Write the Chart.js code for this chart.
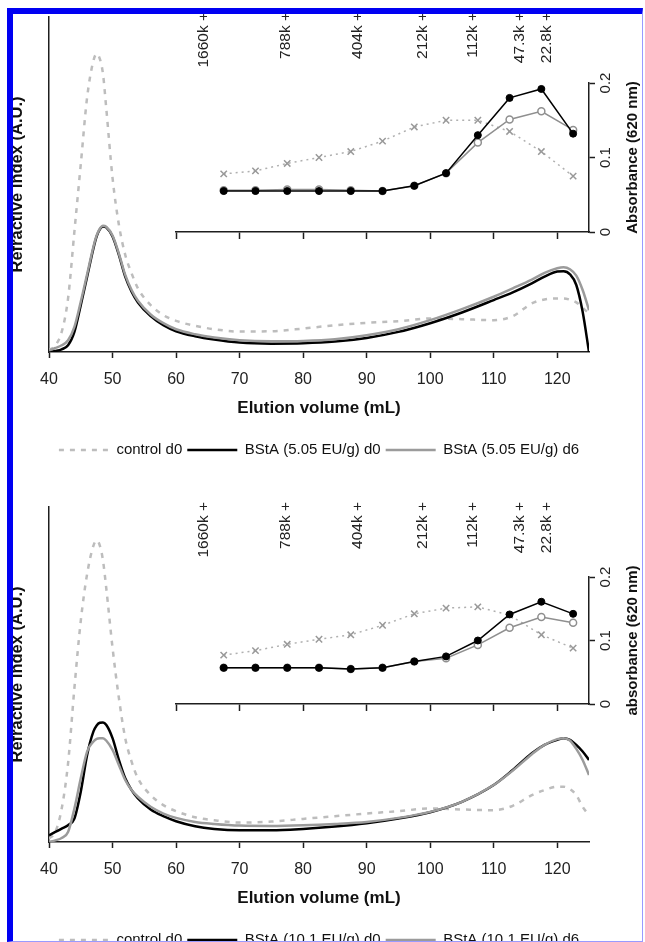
<!DOCTYPE html>
<html>
<head>
<meta charset="utf-8">
<title>Elution profiles</title>
<script src="https://cdn.jsdelivr.net/npm/chart.js@4.4.1/dist/chart.umd.min.js"></script>
<style>
  html, body { margin: 0; padding: 0; background: #fff; }
  #page { position: relative; width: 645px; height: 942px; overflow: hidden; background: #fff; }
  .panel { position: absolute; left: 0; width: 645px; height: 490px; }
  .panel canvas { position: absolute; left: 0; top: 0; }
  #frame { position: absolute; left: 7px; top: 8px; width: 636px; height: 934px; box-sizing: border-box;
           border-left: 6px solid #0000f2; border-top: 6px solid #0000f2;
           border-right: 1px solid #9a9aff; border-bottom: 1px solid #9a9aff;
           pointer-events: none; z-index: 5; }
</style>
</head>
<body>
<div id="page">
  <div class="panel" style="top:0px">
    <canvas id="mainA" width="645" height="490"></canvas>
    <canvas id="insetA" width="645" height="490"></canvas>
  </div>
  <div class="panel" style="top:490px">
    <canvas id="mainB" width="645" height="490"></canvas>
    <canvas id="insetB" width="645" height="490"></canvas>
  </div>
  <div id="frame"></div>
</div>
<script>
Chart.defaults.font.family = '"Liberation Sans", Arial, sans-serif';
Chart.defaults.color = '#222';

// elution volume (mL) of the refractive index traces
const VOL = [40, 41, 42, 43, 44, 45, 46, 47, 47.5, 48, 48.5, 49, 50, 51, 52, 53, 54, 56, 58, 60,
             63, 66, 70, 75, 80, 85, 90, 95, 100, 105, 110, 113, 116, 118, 120, 121, 122, 123, 124, 125];

// top panel, BStA 5.05 EU/g
const CTRL_A = [0.005, 0.02, 0.06, 0.16, 0.36, 0.56, 0.76, 0.87, 0.89, 0.875, 0.83, 0.73, 0.52, 0.38, 0.29, 0.235, 0.19, 0.14, 0.11, 0.093,
                0.078, 0.068, 0.061, 0.062, 0.07, 0.08, 0.087, 0.092, 0.1, 0.098, 0.095, 0.107, 0.145, 0.157, 0.16, 0.16, 0.156, 0.148, 0.132, 0.115];
const D0_A = [0.0, 0.003, 0.008, 0.02, 0.06, 0.14, 0.225, 0.31, 0.345, 0.366, 0.375, 0.372, 0.345, 0.29, 0.225, 0.18, 0.148, 0.107, 0.08, 0.062,
              0.047, 0.037, 0.028, 0.025, 0.026, 0.031, 0.042, 0.06, 0.086, 0.118, 0.155, 0.178, 0.205, 0.225, 0.24, 0.241, 0.232, 0.2, 0.12, 0.0];
const D6_A = [0.005, 0.012, 0.02, 0.035, 0.075, 0.15, 0.232, 0.315, 0.348, 0.368, 0.377, 0.374, 0.348, 0.294, 0.23, 0.185, 0.153, 0.112, 0.086, 0.068,
              0.053, 0.043, 0.035, 0.032, 0.033, 0.038, 0.05, 0.068, 0.095, 0.128, 0.165, 0.19, 0.216, 0.236, 0.25, 0.253, 0.247, 0.228, 0.185, 0.125];

// bottom panel, BStA 10.1 EU/g
const CTRL_B = [0.01, 0.03, 0.1, 0.235, 0.46, 0.66, 0.8, 0.885, 0.9, 0.885, 0.84, 0.76, 0.58, 0.43, 0.31, 0.24, 0.19, 0.14, 0.11, 0.092,
                0.074, 0.065, 0.058, 0.061, 0.069, 0.077, 0.085, 0.092, 0.1, 0.097, 0.095, 0.108, 0.14, 0.155, 0.165, 0.165, 0.158, 0.14, 0.105, 0.08];
const D0_B = [0.02, 0.03, 0.04, 0.05, 0.07, 0.15, 0.26, 0.33, 0.348, 0.356, 0.357, 0.35, 0.31, 0.245, 0.19, 0.155, 0.13, 0.097, 0.077, 0.062,
              0.047, 0.039, 0.035, 0.035, 0.039, 0.046, 0.056, 0.07, 0.089, 0.12, 0.17, 0.215, 0.265, 0.29, 0.305, 0.31, 0.305, 0.29, 0.27, 0.245];
const D6_B = [0.0, 0.005, 0.012, 0.03, 0.1, 0.19, 0.27, 0.3, 0.308, 0.31, 0.31, 0.303, 0.275, 0.23, 0.185, 0.155, 0.135, 0.105, 0.085, 0.072,
              0.06, 0.054, 0.049, 0.048, 0.05, 0.054, 0.06, 0.072, 0.09, 0.12, 0.17, 0.213, 0.262, 0.29, 0.307, 0.31, 0.303, 0.278, 0.245, 0.2];

// collected fractions, absorbance at 620 nm
const FRAC = [67.5, 72.5, 77.5, 82.5, 87.5, 92.5, 97.5, 102.5, 107.5, 112.5, 117.5, 122.5];
const ABS_CTRL_A = [0.078, 0.082, 0.092, 0.100, 0.108, 0.122, 0.141, 0.150, 0.150, 0.135, 0.108, 0.075];
const ABS_D0_A = [0.055, 0.055, 0.055, 0.055, 0.055, 0.055, 0.062, 0.079, 0.130, 0.180, 0.192, 0.132];
const ABS_D6_A = [0.056, 0.056, 0.057, 0.057, 0.056, 0.055, 0.062, 0.079, 0.120, 0.151, 0.162, 0.137];
const ABS_CTRL_B = [0.077, 0.084, 0.094, 0.102, 0.109, 0.124, 0.142, 0.151, 0.153, 0.140, 0.109, 0.088];
const ABS_D0_B = [0.057, 0.057, 0.057, 0.057, 0.055, 0.057, 0.067, 0.075, 0.100, 0.141, 0.161, 0.142];
const ABS_D6_B = [0.057, 0.057, 0.057, 0.057, 0.055, 0.057, 0.067, 0.072, 0.093, 0.120, 0.137, 0.128];

// molecular weight standards
const MW_VOL = [64.4, 77.3, 88.6, 98.9, 106.7, 114.1, 118.4];
const MW_LABELS = ['1660k', '788k', '404k', '212k', '112k', '47.3k', '22.8k'];

const XTICKS = [40, 50, 60, 70, 80, 90, 100, 110, 120];
const INSET_XTICKS = [60, 70, 80, 90, 100, 110, 120];
const ABS_TICKS = [0, 0.1, 0.2];

const NAMES_A = ['control d0', 'BStA (5.05 EU/g) d0', 'BStA (5.05 EU/g) d6'];
const NAMES_B = ['control d0', 'BStA (10.1 EU/g) d0', 'BStA (10.1 EU/g) d6'];

const AXIS = '#1e1e1e';
const pts = (xs, ys) => xs.map((x, i) => ({ x: x, y: ys[i] }));

// right-hand title that reads bottom to top, like the left one
const sideTitle = {
  id: 'sideTitle',
  afterDraw(chart, args, opts) {
    if (!opts.text) return;
    const a = chart.chartArea, ctx = chart.ctx;
    ctx.save();
    ctx.translate(a.right + opts.dx, (a.top + a.bottom) / 2 + (opts.dy || 0));
    ctx.rotate(-Math.PI / 2);
    ctx.font = 'bold ' + opts.size + 'px ' + Chart.defaults.font.family;
    ctx.fillStyle = '#111';
    ctx.textAlign = 'center';
    ctx.textBaseline = 'middle';
    ctx.fillText(opts.text, 0, 0);
    ctx.restore();
  }
};

// legend samples as plain line segments, keeping each dataset's dash
function lineLabels(chart) {
  return chart.data.datasets.map((ds, i) => ({
    text: ds.label,
    datasetIndex: i,
    hidden: false,
    fillStyle: ds.borderColor,
    strokeStyle: ds.borderColor,
    lineWidth: ds.borderWidth,
    lineDash: ds.borderDash || [],
    lineCap: 'butt',
    pointStyle: 'line',
    fontColor: '#111'
  }));
}

function mainChart(id, ctrl, d0, d6, names) {
  return new Chart(document.getElementById(id), {
    type: 'line',
    data: {
      datasets: [
        { label: names[0], data: pts(VOL, ctrl), borderColor: '#bdbdbd', borderDash: [5, 6], borderWidth: 2.5, order: 3 },
        { label: names[1], data: pts(VOL, d0), borderColor: '#000', borderWidth: 2.5, order: 2 },
        { label: names[2], data: pts(VOL, d6), borderColor: '#9b9b9b', borderWidth: 2.5, order: 1 }
      ]
    },
    options: {
      responsive: false, animation: false, events: [],
      elements: { point: { radius: 0 }, line: { cubicInterpolationMode: 'monotone', fill: false } },
      layout: { padding: { left: 0, right: 56, top: 17, bottom: 22.5 } },
      plugins: {
        legend: {
          position: 'bottom', fullSize: false,
          labels: {
            usePointStyle: true, pointStyle: 'line', pointStyleWidth: 50,
            font: { size: 15 }, color: '#111', padding: 5,
            generateLabels: lineLabels
          }
        },
        tooltip: { enabled: false }
      },
      scales: {
        x: {
          type: 'linear', min: 40, max: 125,
          afterBuildTicks: s => { s.ticks = XTICKS.map(v => ({ value: v })); },
          afterFit: s => { s.height = 85.5; },
          ticks: { font: { size: 16 }, color: '#222', padding: 12, maxRotation: 0, autoSkip: false },
          grid: { drawOnChartArea: false, tickLength: 6, tickColor: AXIS, tickWidth: 1.5 },
          border: { color: AXIS, width: 1.5 },
          title: { display: true, text: 'Elution volume (mL)', font: { size: 17, weight: 'bold' }, color: '#111', padding: { top: 0, bottom: 19 } }
        },
        y: {
          min: 0, max: 1,
          afterFit: s => { s.width = 49; },
          ticks: { display: false },
          grid: { display: false },
          border: { color: AXIS, width: 1.5 },
          title: { display: true, text: 'Refractive index (A.U.)', font: { size: 16.5, weight: 'bold' }, color: '#111', padding: { top: 8, bottom: 0 } }
        },
        xmw: {
          type: 'linear', axis: 'x', min: 40, max: 125, position: { y: 1.024 },
          afterBuildTicks: s => { s.ticks = MW_VOL.map(v => ({ value: v })); },
          ticks: { callback: (v, i) => MW_LABELS[i] + ' +', minRotation: 90, maxRotation: 90, autoSkip: false,
                   font: { size: 15.5 }, color: '#222', padding: 3 },
          grid: { display: false, drawTicks: false },
          border: { display: false }
        }
      }
    }
  });
}

function insetChart(id, ctrl, d0, d6, top, bottom, title) {
  return new Chart(document.getElementById(id), {
    type: 'line',
    data: {
      datasets: [
        { data: pts(FRAC, ctrl), borderColor: '#b0b0b0', borderDash: [2, 4], borderWidth: 1.5,
          pointStyle: 'crossRot', pointRadius: 4.5, pointBorderColor: '#999', pointBorderWidth: 1.5, order: 3 },
        { data: pts(FRAC, d6), borderColor: '#8f8f8f', borderWidth: 1.5,
          pointRadius: 3.5, pointBackgroundColor: '#fff', pointBorderColor: '#8f8f8f', pointBorderWidth: 1.5, order: 2 },
        { data: pts(FRAC, d0), borderColor: '#000', borderWidth: 1.5,
          pointRadius: 3.5, pointBackgroundColor: '#000', pointBorderColor: '#000', pointBorderWidth: 1, order: 1 }
      ]
    },
    options: {
      responsive: false, animation: false, events: [],
      elements: { line: { tension: 0, fill: false } },
      layout: { padding: { left: 176.06, right: 0, top: top, bottom: 0 } },
      plugins: { legend: { display: false }, tooltip: { enabled: false }, sideTitle: { text: title, dx: 44, size: 15 } },
      scales: {
        x: {
          type: 'linear', min: 60, max: 125,
          afterBuildTicks: s => { s.ticks = INSET_XTICKS.map(v => ({ value: v })); },
          afterFit: s => { s.height = 490 - bottom; },
          ticks: { display: false },
          grid: { drawOnChartArea: false, tickLength: 7, tickColor: AXIS, tickWidth: 1.5 },
          border: { color: AXIS, width: 1.5 }
        },
        y: {
          position: 'right', min: 0, max: 0.2,
          afterBuildTicks: s => { s.ticks = ABS_TICKS.map(v => ({ value: v })); },
          afterFit: s => { s.width = 56; },
          ticks: { callback: v => (v === 0 ? '0' : v.toFixed(1)), minRotation: 90, crossAlign: 'center',
                   font: { size: 15 }, color: '#222', padding: 0 },
          grid: { drawOnChartArea: false, tickLength: 6, tickColor: AXIS, tickWidth: 1.5 },
          border: { color: AXIS, width: 1.5 }
        }
      }
    },
    plugins: [sideTitle]
  });
}

mainChart('mainA', CTRL_A, D0_A, D6_A, NAMES_A);
insetChart('insetA', ABS_CTRL_A, ABS_D0_A, ABS_D6_A, 83, 232, 'Absorbance (620 nm)');
mainChart('mainB', CTRL_B, D0_B, D6_B, NAMES_B);
insetChart('insetB', ABS_CTRL_B, ABS_D0_B, ABS_D6_B, 87, 214, 'absorbance (620 nm)');
</script>
</body>
</html>
